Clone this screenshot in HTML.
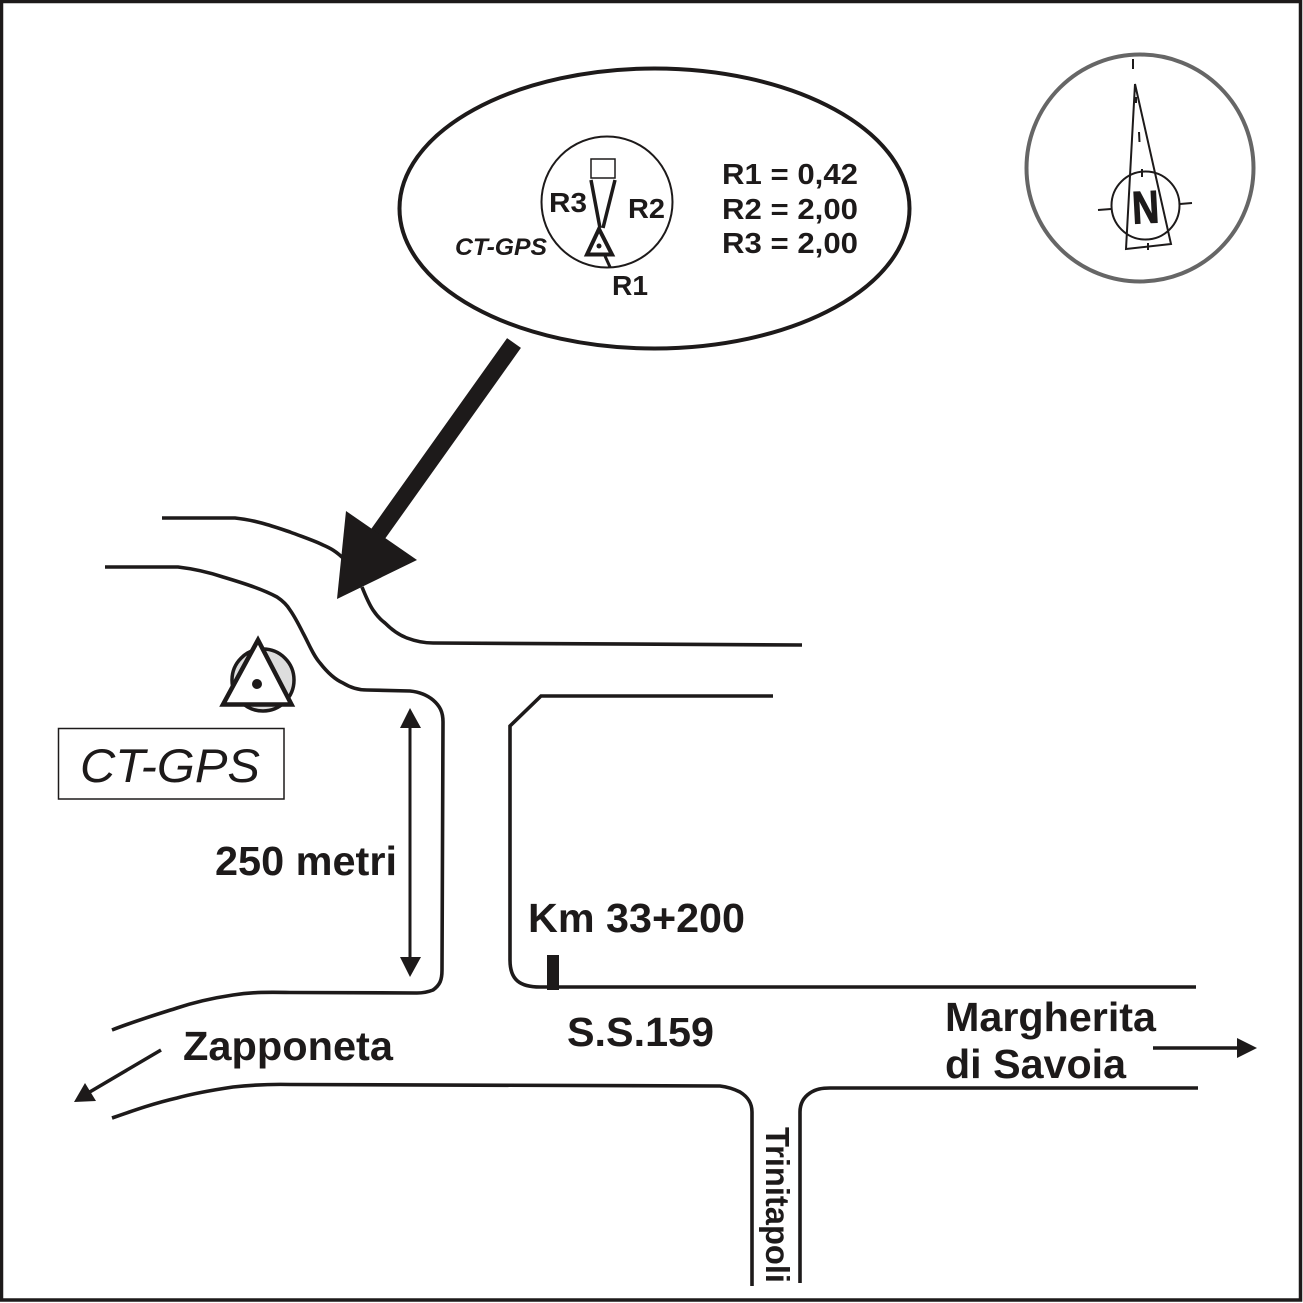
<!DOCTYPE html>
<html><head><meta charset="utf-8"><style>
html,body{margin:0;padding:0;background:#fff}
svg{display:block}
text{font-family:"Liberation Sans",sans-serif;font-weight:bold;fill:#1d1a1a}
.l{fill:none;stroke:#1d1a1a;stroke-width:3.6}
</style></head><body>
<svg width="1303" height="1303" viewBox="0 0 1303 1303" xmlns="http://www.w3.org/2000/svg">
<rect x="1.500" y="1.500" width="1299" height="1298.500" fill="#fff" stroke="#1d1a1a" stroke-width="3.500"/>

<!-- Compass -->
<circle cx="1140" cy="168" r="113.500" fill="none" stroke="#666" stroke-width="4"/>
<path d="M1135,84 L1126,249 L1171,244 Z" fill="none" stroke="#1d1a1a" stroke-width="2"/>
<circle cx="1145.500" cy="205.500" r="34" fill="none" stroke="#1d1a1a" stroke-width="2"/>
<path d="M1133,59V69M1136,97V103M1139,132L1139.500,142M1142,169V177M1148,243V250M1098,210L1111,209M1180,204L1192,203" stroke="#1d1a1a" stroke-width="2" fill="none"/>
<text x="1132" y="223" font-size="46" textLength="27" lengthAdjust="spacingAndGlyphs" stroke="#1d1a1a" stroke-width="1" transform="rotate(-3 1146 206)">N</text>

<!-- Ellipse -->
<ellipse cx="654.500" cy="208.500" rx="255" ry="140" fill="#fff" stroke="#1d1a1a" stroke-width="4"/>
<circle cx="607" cy="202" r="65.500" fill="none" stroke="#1d1a1a" stroke-width="2"/>
<rect x="591" y="159" width="24" height="19" fill="none" stroke="#1d1a1a" stroke-width="1.500"/>
<path d="M591,180 L600,228 M615,180 L603,228" stroke="#1d1a1a" stroke-width="3.500" fill="none"/>
<path d="M599,229 L587,254.500 L612,254.500 Z" fill="#fff" stroke="#1d1a1a" stroke-width="4"/>
<circle cx="599" cy="246" r="2.500" fill="#1d1a1a"/>
<path d="M605,256 L610,267" stroke="#1d1a1a" stroke-width="3"/>
<text x="549" y="212" font-size="28" textLength="38" lengthAdjust="spacingAndGlyphs">R3</text>
<text x="628" y="218" font-size="28" textLength="37" lengthAdjust="spacingAndGlyphs">R2</text>
<text x="612" y="295" font-size="28" textLength="36" lengthAdjust="spacingAndGlyphs">R1</text>
<text x="455" y="255" font-size="24" font-style="italic" textLength="92" lengthAdjust="spacingAndGlyphs">CT-GPS</text>
<text x="722" y="184" font-size="29" textLength="136" lengthAdjust="spacingAndGlyphs">R1 = 0,42</text>
<text x="722" y="219" font-size="29" textLength="136" lengthAdjust="spacingAndGlyphs">R2 = 2,00</text>
<text x="722" y="253" font-size="29" textLength="136" lengthAdjust="spacingAndGlyphs">R3 = 2,00</text>

<!-- Roads -->
<path class="l" d="M162,518 L235,518 C255,520 272,526 290,532 C303,537 315,541 323,545 C330,548 336,551 345,560"/>
<path class="l" d="M362,587 C366,597 369,604 373,610 C377,616 381,620 385,623 C392,630 399,635 407,638 C415,641 424,643 433,643 L802,645"/>
<path class="l" d="M105,567 L178,567 C195,569 208,572 223,577 C243,583 262,589 277,597 C283,601 287,605 290,610 C295,617 299,625 303,633 C309,644 313,655 320,663 C327,672 334,679 343,683 C351,688 358,690 367,690 L410,691 C420,692 427,695 433,700 C440,706 443,712 443,722 L442,970 C442,980 440,985 433,990 C428,992 423,993 417,993 L290,992.500 C270,992 252,992 233,995 C213,998 195,1002 177,1008 C155,1015 135,1021 112,1030"/>
<path class="l" d="M773,696 L541,696 L510,726 L510,960 C510,980 520,987 540,987 L1196,987"/>
<path class="l" d="M112,1118 C135,1110 155,1103 177,1098 C195,1093 213,1090 233,1087 C252,1085 270,1084 290,1084.500 L720,1086 C728,1087 734,1089 740,1092 C748,1097 752,1103 752,1112 L752,1286"/>
<path class="l" d="M800,1283 L800,1112 C800,1103 804,1097 810,1093 C816,1089 822,1088 830,1088 L1198,1088"/>

<!-- Big arrow -->
<path d="M514,343 L368,548" stroke="#1d1a1a" stroke-width="17" fill="none"/>
<path d="M346,511 L417,560 L337,599 Z" fill="#1d1a1a"/>

<!-- Station -->
<circle cx="263" cy="680" r="31" fill="#ddd" stroke="#1d1a1a" stroke-width="3.500"/>
<path d="M258,640 L223,704.500 L291.500,704.500 Z" fill="#fff" stroke="#1d1a1a" stroke-width="4.500"/>
<circle cx="257" cy="684" r="5" fill="#1d1a1a"/>
<rect x="58.500" y="728.500" width="225.500" height="70.500" fill="#fff" stroke="#1d1a1a" stroke-width="1.500"/>
<text x="80" y="782" font-size="47.500" style="font-weight:normal" font-style="italic" textLength="180" lengthAdjust="spacingAndGlyphs">CT-GPS</text>

<!-- Dimension arrow -->
<path d="M410,720 V965" stroke="#1d1a1a" stroke-width="3"/>
<path d="M410,708 L400,728 L421,728 Z M410,977 L400,957 L421,957 Z" fill="#1d1a1a"/>

<!-- Small arrows -->
<path d="M161,1050 L88,1093" stroke="#1d1a1a" stroke-width="3.500"/>
<path d="M74,1102 L85,1083 L96,1101 Z" fill="#1d1a1a"/>
<path d="M1153,1048 H1240" stroke="#1d1a1a" stroke-width="3.500"/>
<path d="M1257,1048 L1237,1038 V1058 Z" fill="#1d1a1a"/>

<rect x="547" y="955" width="12" height="35" fill="#1d1a1a"/>

<!-- Labels -->
<text x="215" y="875" font-size="41" textLength="182" lengthAdjust="spacingAndGlyphs">250 metri</text>
<text x="528" y="932" font-size="41" textLength="217" lengthAdjust="spacingAndGlyphs">Km 33+200</text>
<text x="567" y="1046" font-size="41" textLength="147" lengthAdjust="spacingAndGlyphs">S.S.159</text>
<text x="183" y="1060" font-size="41" textLength="210" lengthAdjust="spacingAndGlyphs">Zapponeta</text>
<text x="945" y="1031" font-size="41" textLength="211" lengthAdjust="spacingAndGlyphs">Margherita</text>
<text x="945" y="1078" font-size="41" textLength="181" lengthAdjust="spacingAndGlyphs">di Savoia</text>
<text transform="translate(766 1127) rotate(90)" font-size="33" textLength="156" lengthAdjust="spacingAndGlyphs">Trinitapoli</text>
</svg>
</body></html>
